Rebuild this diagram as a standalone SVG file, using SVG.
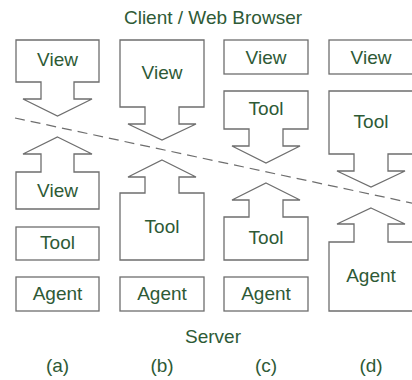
<svg xmlns="http://www.w3.org/2000/svg" width="412" height="380" viewBox="0 0 412 380">
  <style>
    .shape { fill: #ffffff; stroke: #6e6e6e; stroke-width: 1.3; }
    .lbl { font-family: "Liberation Sans", Arial, sans-serif; font-size: 19px; fill: #2e5a36; text-anchor: middle; }
    .divider { fill: none; stroke: #6e6e6e; stroke-width: 1.2; stroke-dasharray: 10 6; }
  </style>
  <rect width="412" height="380" fill="#ffffff"/>

  <text class="lbl" x="213" y="24">Client / Web Browser</text>
  <text class="lbl" x="213" y="343">Server</text>

  <g id="connectors">
    <line class="divider" x1="15" y1="118" x2="414" y2="203.5"/>
  </g>

  <!-- (a) -->
  <g id="a-view-client">
    <path class="shape" d="M16,40 H99 V82 H74 V99 H92 L57.5,116 L23,99 H41 V82 H16 Z"/>
    <text class="lbl" x="57.5" y="66">View</text>
  </g>
  <g id="a-view-server">
    <path class="shape" d="M57.5,137 L92,154 H74 V172 H99 V209 H16 V172 H41 V154 H23 Z"/>
    <text class="lbl" x="57.5" y="197">View</text>
  </g>
  <g id="a-tool">
    <rect class="shape" x="16" y="227" width="83" height="33"/>
    <text class="lbl" x="57.5" y="248.5">Tool</text>
  </g>
  <g id="a-agent">
    <rect class="shape" x="16" y="277" width="83" height="34"/>
    <text class="lbl" x="57.5" y="299.5">Agent</text>
  </g>
  <text class="lbl" x="57.5" y="372">(a)</text>

  <!-- (b) -->
  <g id="b-view">
    <path class="shape" d="M120,40 H204 V107 H179 V124 H196 L162,140 L128,124 H145 V107 H120 Z"/>
    <text class="lbl" x="162" y="79">View</text>
  </g>
  <g id="b-tool">
    <path class="shape" d="M162,160 L196,177 H179 V193 H204 V260 H120 V193 H145 V177 H128 Z"/>
    <text class="lbl" x="162" y="233">Tool</text>
  </g>
  <g id="b-agent">
    <rect class="shape" x="120" y="277" width="84" height="34"/>
    <text class="lbl" x="162" y="299.5">Agent</text>
  </g>
  <text class="lbl" x="162" y="372">(b)</text>

  <!-- (c) -->
  <g id="c-view">
    <rect class="shape" x="224" y="40" width="84" height="34"/>
    <text class="lbl" x="266" y="63.5">View</text>
  </g>
  <g id="c-tool-client">
    <path class="shape" d="M224,91 H308 V129 H283 V146 H300 L266,163 L232,146 H249 V129 H224 Z"/>
    <text class="lbl" x="266" y="115">Tool</text>
  </g>
  <g id="c-tool-server">
    <path class="shape" d="M266,183 L300,200 H283 V217 H308 V260 H224 V217 H249 V200 H232 Z"/>
    <text class="lbl" x="266" y="243.5">Tool</text>
  </g>
  <g id="c-agent">
    <rect class="shape" x="224" y="277" width="84" height="34"/>
    <text class="lbl" x="266" y="299.5">Agent</text>
  </g>
  <text class="lbl" x="266" y="372">(c)</text>

  <!-- (d) -->
  <g id="d-view">
    <rect class="shape" x="329" y="40" width="84" height="34"/>
    <text class="lbl" x="371" y="63.5">View</text>
  </g>
  <g id="d-tool">
    <path class="shape" d="M329,91 H413 V154 H388 V171 H405 L371,187 L337,171 H354 V154 H329 Z"/>
    <text class="lbl" x="371" y="127.5">Tool</text>
  </g>
  <g id="d-agent">
    <path class="shape" d="M371,208 L405,224 H388 V242 H413 V311 H329 V242 H354 V224 H337 Z"/>
    <text class="lbl" x="371" y="282">Agent</text>
  </g>
  <text class="lbl" x="371" y="372">(d)</text>
</svg>
